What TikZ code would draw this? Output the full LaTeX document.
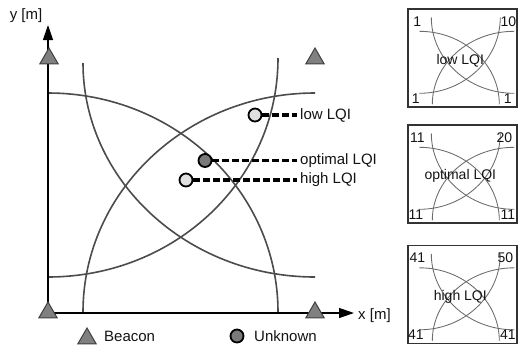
\documentclass[tikz,border=0pt]{standalone}
\usepackage{fontspec}
\setmainfont{Liberation Sans}
\usetikzlibrary{arrows.meta,shapes.geometric}
\begin{document}
\begin{tikzpicture}[x=1pt,y=-1pt,
  beacon/.style={regular polygon,regular polygon sides=3,minimum size=21pt,inner sep=0pt,fill=black!50,draw=black!75,line width=1pt},
  unknown/.style={circle,minimum size=13pt,inner sep=0pt,draw=black,line width=1.8pt},
  lbl/.style={font=\fontsize{15}{15}\selectfont,inner sep=0pt,text=black!92},
  rangearc/.style={draw=black!70,line width=1.6pt},
  axis/.style={line width=1.3pt,-{Triangle[length=15pt,width=10pt]}},
  leader/.style={line width=3.2pt,dash pattern=on 7pt off 3pt,shorten >=3pt},
  minibox/.style={draw=black!80,line width=1.4pt,minimum width=109pt,minimum height=98pt,inner sep=0pt},
  mini/.style={draw=black!58,line width=0.85pt},
  boxlbl/.style={font=\fontsize{14}{14}\selectfont,inner sep=0pt,text=black!92}
]
\useasboundingbox (0,0) rectangle (518,354);
\fill[white] (0,0) rectangle (518,354);

% range arcs
\draw[rangearc] (83,63) .. controls (83,180) and (187,277) .. (315,277);
\draw[rangearc] (278,58) .. controls (278,180) and (175,277) .. (48,277);
\draw[rangearc] (48,93) .. controls (175,93) and (278,191.5) .. (278,312);
\draw[rangearc] (315,93) .. controls (187,93) and (83,191.5) .. (83,312);

% axes
\coordinate (O) at (48,313);
\coordinate (Ytop) at (48,25);
\coordinate (Xend) at (354,313);
\draw[axis] (O) -- (Ytop);
\draw[axis] (O) -- (Xend);
\node[lbl] (ylab) at (26,16) {y [m]};
\node[lbl,anchor=west] (xlab) at (358,316) {x [m]};

% beacons
\node[beacon] (bTL) at (49,58.5) {};
\node[beacon] (bTR) at (315,58.5) {};
\node[beacon] (bBL) at (48,312.5) {};
\node[beacon] (bBR) at (315,312.5) {};

% unknowns
\node[unknown,fill=black!12] (u1) at (255,115) {};
\node[unknown,fill=black!52] (u2) at (205,160.5) {};
\node[unknown,fill=black!12] (u3) at (186,180) {};
\node[lbl,anchor=west] (t1) at (300,115) {low LQI};
\node[lbl,anchor=west] (t2) at (300,160.5) {optimal LQI};
\node[lbl,anchor=west] (t3) at (300,180) {high LQI};
\draw[leader] (u1.east) -- (t1.west);
\draw[leader] (u2.east) -- (t2.west);
\draw[leader] (u3.east) -- (t3.west);

% legend
\node[beacon] (lb) at (87,338.5) {};
\node[lbl,anchor=west] (lbt) at (104,336) {Beacon};
\node[unknown,fill=black!52] (lu) at (237,336) {};
\node[lbl,anchor=west] (lut) at (254,336) {Unknown};

% mini boxes
\node[minibox] (b1) at (462.5,58) {};
\node[minibox] (b2) at (462.5,174) {};
\node[minibox] (b3) at (462.5,294.5) {};
\foreach \b/\tl/\tr/\bl/\br/\c/\trx in {b1/1/10/1/1/low LQI/101, b2/11/20/11/11/optimal LQI/97, b3/41/50/41/41/high LQI/98}{
  \begin{scope}[shift={(\b.north west)}]
    \draw[mini] (24,9) .. controls (24,51) and (61,85) .. (107,85);
    \draw[mini] (93,9) .. controls (93,51) and (56.7,85) .. (12,85);
    \draw[mini] (12,23) .. controls (56,23) and (92,55.7) .. (92,96);
    \draw[mini] (107,23) .. controls (61.7,23) and (25,55.7) .. (25,96);
    \node[boxlbl] (\b tl) at (10,13) {\tl};
    \node[boxlbl] (\b tr) at (\trx,13) {\tr};
    \node[boxlbl] (\b bl) at (8.5,90) {\bl};
    \node[boxlbl] (\b br) at (100.5,90) {\br};
    \node[boxlbl] (\b c) at (53,52) {\c};
  \end{scope}
}
\end{tikzpicture}
\end{document}
